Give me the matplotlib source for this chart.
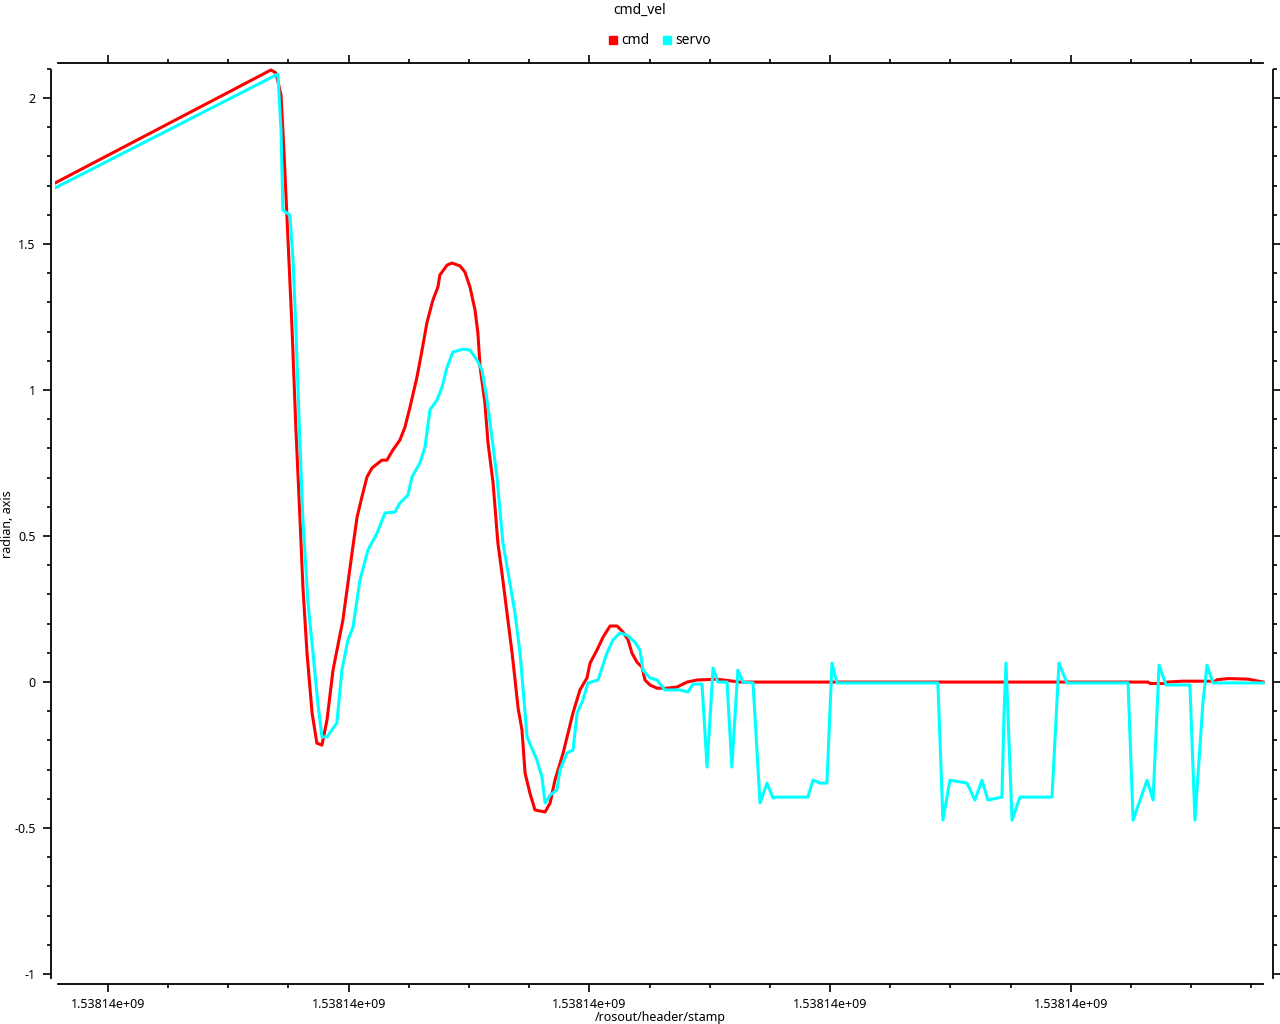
import numpy as np
import matplotlib
matplotlib.use("Agg")
import matplotlib.pyplot as plt
from matplotlib.ticker import MultipleLocator, FuncFormatter

plt.rcParams['font.family'] = ['Noto Sans', 'DejaVu Sans']
plt.rcParams['axes.unicode_minus'] = False

base = 1538140000.0

# cmd (red): seconds after base, value
cmd_t = [17.80, 26.77, 26.98, 27.19, 27.31, 27.48, 27.65, 27.81, 27.98, 28.10, 28.27, 28.48,
         28.68, 28.89, 29.10, 29.35, 29.76, 30.14, 30.35, 30.55, 30.76, 30.97, 31.38, 31.59,
         31.84, 32.13, 32.34, 32.55, 32.84, 33.05, 33.25, 33.50, 33.71, 33.79, 34.09, 34.29,
         34.63, 34.83, 35.04, 35.25, 35.37, 35.46, 35.66, 35.79, 36.00, 36.20, 36.37, 36.58,
         36.79, 36.91, 37.04, 37.20, 37.33, 37.53, 37.74, 38.16, 38.37, 38.57, 38.91, 39.32, 39.61,
         39.90, 40.03, 40.32, 40.57, 40.86, 41.15, 41.40, 41.61, 41.77, 41.98, 42.19, 42.31,
         42.52, 42.81, 43.23, 43.64, 44.06, 44.47, 45.30, 46.26, 63.21, 63.30, 63.90, 64.00,
         64.62, 66.00, 66.08, 66.54, 67.37, 67.99]
cmd_v = [1.709, 2.096, 2.086, 2.010, 1.822, 1.514, 1.206, 0.863, 0.555, 0.325, 0.099, -0.106,
         -0.209, -0.216, -0.130, 0.041, 0.212, 0.442, 0.565, 0.634, 0.702, 0.733, 0.760, 0.760,
         0.795, 0.829, 0.873, 0.942, 1.045, 1.137, 1.230, 1.308, 1.353, 1.394, 1.428, 1.435,
         1.425, 1.404, 1.353, 1.274, 1.195, 1.079, 0.956, 0.819, 0.682, 0.476, 0.373, 0.236,
         0.099, 0.010, -0.090, -0.164, -0.312, -0.380, -0.438, -0.445, -0.414, -0.336, -0.243, -0.106, -0.027,
         0.014, 0.065, 0.110, 0.154, 0.192, 0.192, 0.171, 0.144, 0.099, 0.068, 0.051, 0.007,
         -0.010, -0.021, -0.021, -0.017, 0.000, 0.007, 0.010, 0.000, 0.000, -0.005, -0.005, 0.000,
         0.003, 0.003, 0.008, 0.012, 0.010, 0.000]

# servo (cyan)
servo_t = [17.80, 27.06, 27.19, 27.27, 27.56, 27.69, 27.81, 27.94, 28.10, 28.31, 28.52, 28.72,
           28.89, 29.10, 29.51, 29.72, 29.97, 30.18, 30.47, 30.80, 31.18, 31.51, 31.92, 32.13,
           32.46, 32.63, 32.96, 33.17, 33.38, 33.67, 33.88, 34.09, 34.33, 34.75, 35.04, 35.33,
           35.54, 35.75, 35.95, 36.16, 36.41, 36.70, 36.91, 37.12, 37.24, 37.41, 37.82, 38.03,
           38.16, 38.37, 38.65, 38.78, 39.07, 39.32, 39.49, 39.73, 39.94, 40.36, 40.73, 40.98,
           41.27, 41.56, 41.89, 42.10, 42.23, 42.52, 42.81, 43.14, 43.76, 44.10, 44.30, 44.68,
           44.89, 45.14, 45.34, 45.72, 45.92, 46.17, 46.38, 46.80, 47.09, 47.38, 47.63, 47.79,
           49.08, 49.29, 49.58, 49.87, 50.08, 50.29, 54.48, 54.69, 54.98, 55.69, 56.02, 56.31,
           56.56, 57.14, 57.23, 57.31, 57.39, 57.56, 57.89, 59.22, 59.51, 59.84, 62.38, 62.59,
           63.17, 63.42, 63.67, 63.96, 64.95, 65.16, 65.49, 65.66, 65.91, 67.99]
servo_v = [1.692, 2.082, 1.890, 1.616, 1.599, 1.445, 1.205, 0.897, 0.555, 0.271, 0.099, -0.072,
           -0.188, -0.188, -0.140, 0.041, 0.144, 0.188, 0.349, 0.452, 0.510, 0.579, 0.582, 0.613,
           0.640, 0.702, 0.750, 0.805, 0.932, 0.966, 1.010, 1.079, 1.130, 1.140, 1.137, 1.103,
           1.068, 0.966, 0.839, 0.702, 0.476, 0.339, 0.236, 0.099, -0.017, -0.188, -0.267, -0.325,
           -0.414, -0.387, -0.370, -0.301, -0.243, -0.233, -0.106, -0.062, -0.003, 0.007, 0.099, 0.144,
           0.168, 0.161, 0.137, 0.110, 0.041, 0.014, 0.007, -0.027, -0.027, -0.034, -0.007, -0.007,
           -0.291, 0.048, 0.000, 0.000, -0.291, 0.041, 0.000, -0.003, -0.414, -0.346, -0.397, -0.394,
           -0.394, -0.336, -0.346, -0.346, 0.065, -0.003, -0.003, -0.473, -0.336, -0.346, -0.404, -0.336,
           -0.404, -0.394, -0.106, 0.065, -0.106, -0.473, -0.394, -0.394, 0.065, -0.003, -0.003, -0.473,
           -0.336, -0.404, 0.058, -0.010, -0.010, -0.473, -0.072, 0.058, -0.003, -0.003]

cmd_x = base + np.array(cmd_t)
servo_x = base + np.array(servo_t)

fig = plt.figure(figsize=(12.8, 10.24), dpi=100)
ax = fig.add_axes([55/1280, 40/1024, 1210/1280, 921/1024])

ax.plot(cmd_x, cmd_v, color='#ff0000', lw=2.2, label='cmd')
ax.plot(servo_x, servo_v, color='#00ffff', lw=2.2, label='servo')

ax.set_xlim(base + 17.80, base + 68.07)
ax.set_ylim(-1.034, 2.12)

ax.xaxis.set_major_locator(MultipleLocator(10))
ax.xaxis.set_minor_locator(MultipleLocator(2.5))
ax.yaxis.set_major_locator(MultipleLocator(0.5))
ax.yaxis.set_minor_locator(MultipleLocator(0.1))
fmt = FuncFormatter(lambda v, p: '%g' % v)
ax.xaxis.set_major_formatter(fmt)
ax.yaxis.set_major_formatter(fmt)

ax.tick_params(which='both', direction='out', top=True, right=True, width=1.2,
               labelsize=9, colors='black')
ax.tick_params(which='major', length=6)
ax.tick_params(which='minor', length=3)
ax.tick_params(axis='x', pad=4)
ax.tick_params(axis='y', pad=5)

for s in ax.spines.values():
    s.set_linewidth(1.3)
ax.spines['left'].set_position(('outward', 3))
ax.spines['right'].set_position(('outward', 6))
ax.spines['left'].set_bounds(-1.014, 2.096)
ax.spines['right'].set_bounds(-1.014, 2.096)
ax.spines['top'].set_bounds(base + 17.92, base + 67.98)
ax.spines['bottom'].set_bounds(base + 17.92, base + 67.98)

fig.text(660/1280, 1 - 1017/1024, '/rosout/header/stamp', ha='center', va='center', fontsize=9)
fig.text(8/1280, 1 - 524/1024, 'radian, axis', ha='center', va='center', rotation=90, fontsize=9)

fig.text(0.5, 1 - 10/1024, 'cmd_vel', ha='center', va='center', fontsize=10)
ax.legend(handles=[plt.Line2D([], [], ls='', marker='s', ms=6, color='#ff0000', label='cmd'),
                   plt.Line2D([], [], ls='', marker='s', ms=6, color='#00ffff', label='servo')],
          loc='center', bbox_to_anchor=(0.5, 1 + 22/921), ncol=2, frameon=False,
          fontsize=10, handlelength=0.6, handletextpad=0.3, columnspacing=1.0,
          borderaxespad=0)

fig.savefig('out.png', dpi=100)
